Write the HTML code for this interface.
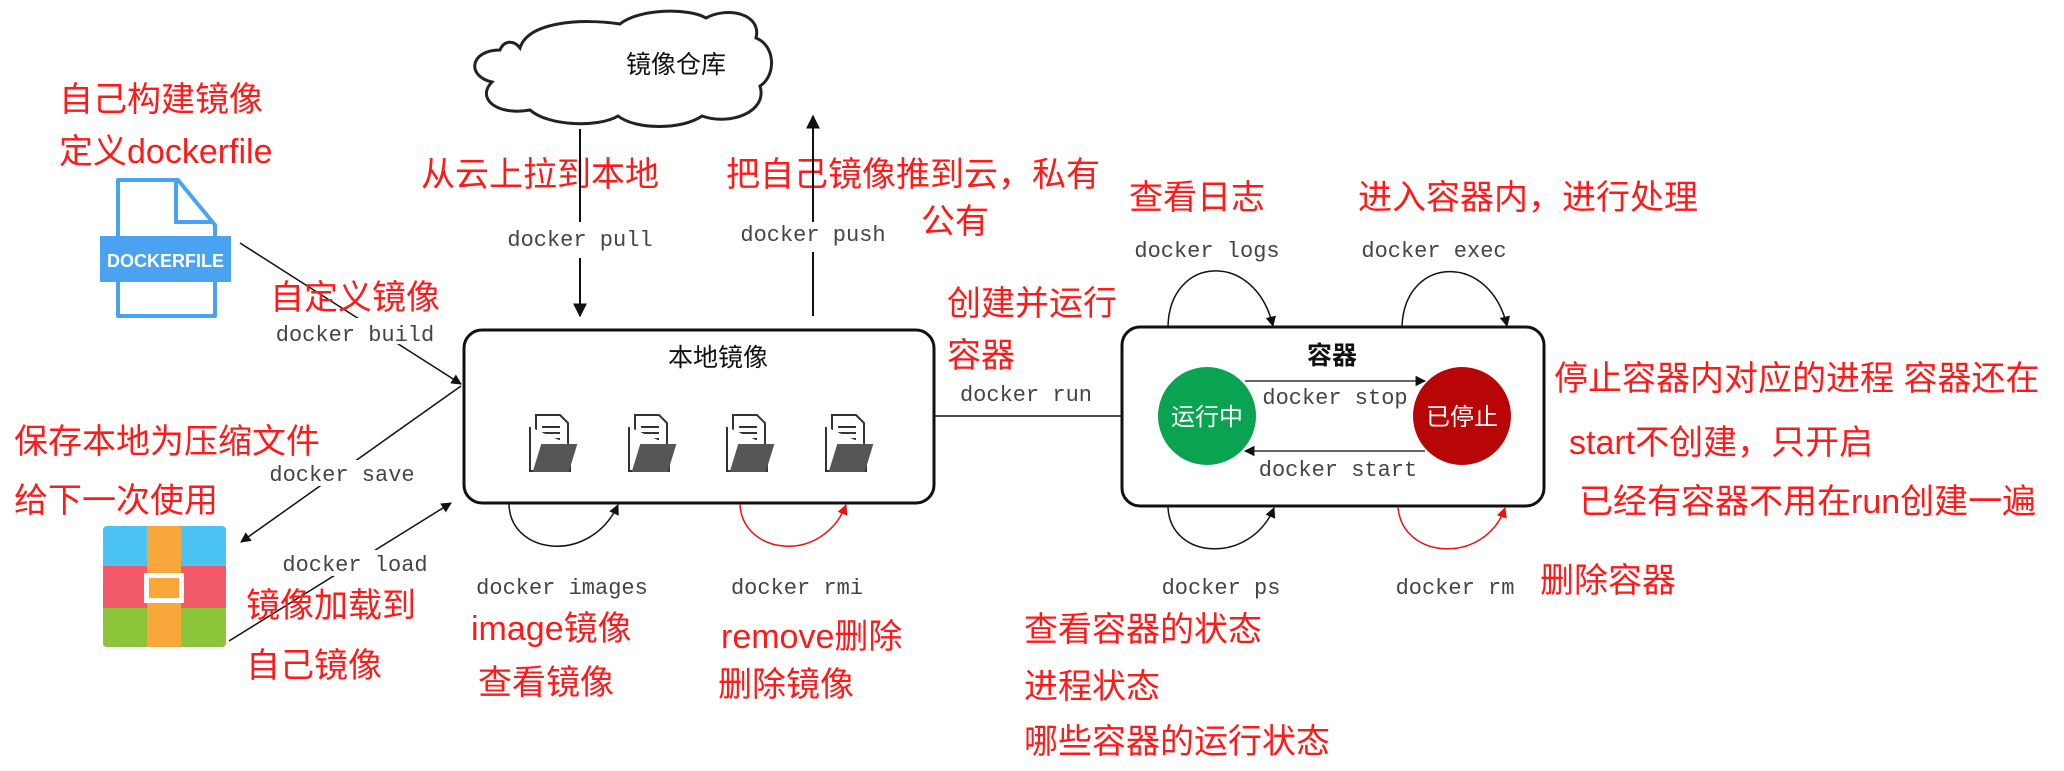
<!DOCTYPE html>
<html><head><meta charset="utf-8"><style>
html,body{margin:0;padding:0;background:#fff;}
svg{display:block;}
.r{font-family:"Liberation Sans","Noto Sans CJK SC",sans-serif;font-size:34px;fill:#ff1a1a;}
.m{font-family:"Liberation Mono",monospace;font-size:22px;fill:#444;}
.t{font-family:"Liberation Sans","Noto Sans CJK SC",sans-serif;font-size:25px;fill:#111;}
</style></head><body>
<svg width="2064" height="771" viewBox="0 0 2064 771" xmlns="http://www.w3.org/2000/svg">
<defs>
<marker id="a" viewBox="0 0 10 10" refX="9" refY="5" markerWidth="7" markerHeight="7" orient="auto-start-reverse"><path d="M0,0L10,5L0,10z" fill="#111"/></marker>
<marker id="ar" viewBox="0 0 10 10" refX="9" refY="5" markerWidth="7" markerHeight="7" orient="auto-start-reverse"><path d="M0,0L10,5L0,10z" fill="#e11"/></marker>
</defs>
<!-- cloud -->
<path d="M520,48 C528,22 580,18 620,24 C640,8 690,8 706,18 C728,6 762,14 756,38 C776,46 776,76 760,86 C768,112 730,126 702,116 C682,130 636,130 618,116 C598,128 548,126 530,110 C496,116 476,98 492,82 C466,76 470,50 500,50 C504,40 514,40 520,48 Z" fill="#fff" stroke="#222" stroke-width="3"/>
<text class="t" x="676" y="73" text-anchor="middle">镜像仓库</text>

<text class="r" x="59" y="111">自己构建镜像</text>
<text class="r" x="59" y="163">定义dockerfile</text>
<path d="M118,180 H178 L215,225 V316 H118 Z" fill="#fff" stroke="#4aa3f0" stroke-width="4" stroke-linejoin="round"/>
<path d="M176,182 V222 H213" fill="none" stroke="#4aa3f0" stroke-width="4"/>
<rect x="100" y="236" width="131" height="46" fill="#4aa3f0"/>
<text x="165.5" y="267" text-anchor="middle" font-family="Liberation Sans,sans-serif" font-weight="bold" font-size="18" fill="#fff">DOCKERFILE</text>

<text class="r" x="421" y="186">从云上拉到本地</text>
<text class="r" x="726" y="186">把自己镜像推到云，私有</text>
<text class="r" x="921" y="233">公有</text>
<text class="r" x="947" y="315">创建并运行</text>
<text class="r" x="947" y="367">容器</text>

<line x1="580" y1="129" x2="580" y2="222" stroke="#111" stroke-width="2"/>
<text class="m" x="580" y="246" text-anchor="middle">docker pull</text>
<line x1="580" y1="258" x2="580" y2="316" stroke="#111" stroke-width="2" marker-end="url(#a)"/>
<line x1="813" y1="316" x2="813" y2="252" stroke="#111" stroke-width="2"/>
<text class="m" x="813" y="241" text-anchor="middle">docker push</text>
<line x1="813" y1="222" x2="813" y2="116" stroke="#111" stroke-width="2" marker-end="url(#a)"/>

<rect x="464" y="330" width="470" height="173" rx="18" fill="#fff" stroke="#111" stroke-width="3"/>
<text class="t" x="718" y="366" text-anchor="middle">本地镜像</text>
<g fill="#fff" stroke="#333" stroke-width="2">
<g transform="translate(530,415)"><path d="M6,0H30L38,8V40H6Z"/><path d="M12,12H30M12,18H30M12,24H30" /><path d="M0,12V56H40V30"/><path d="M4,56L12,30H46L38,56Z" fill="#555" stroke="#555"/></g>
<g transform="translate(629,415)"><path d="M6,0H30L38,8V40H6Z"/><path d="M12,12H30M12,18H30M12,24H30" /><path d="M0,12V56H40V30"/><path d="M4,56L12,30H46L38,56Z" fill="#555" stroke="#555"/></g>
<g transform="translate(727,415)"><path d="M6,0H30L38,8V40H6Z"/><path d="M12,12H30M12,18H30M12,24H30" /><path d="M0,12V56H40V30"/><path d="M4,56L12,30H46L38,56Z" fill="#555" stroke="#555"/></g>
<g transform="translate(826,415)"><path d="M6,0H30L38,8V40H6Z"/><path d="M12,12H30M12,18H30M12,24H30" /><path d="M0,12V56H40V30"/><path d="M4,56L12,30H46L38,56Z" fill="#555" stroke="#555"/></g>
</g>

<line x1="240" y1="243" x2="461" y2="384" stroke="#111" stroke-width="1.5" marker-end="url(#a)"/>
<rect x="270" y="318" width="175" height="26" fill="#fff"/>
<text class="r" x="270" y="309">自定义镜像</text>
<text class="m" x="355" y="341" text-anchor="middle">docker build</text>
<line x1="461" y1="386" x2="241" y2="542" stroke="#111" stroke-width="1.5" marker-end="url(#a)"/>
<rect x="268" y="460" width="150" height="26" fill="#fff"/>
<text class="m" x="342" y="481" text-anchor="middle">docker save</text>
<text class="r" x="14" y="453">保存本地为压缩文件</text>
<text class="r" x="14" y="512">给下一次使用</text>
<rect x="103" y="526" width="123" height="121" rx="4" fill="#4cc3f5"/>
<rect x="103" y="566" width="123" height="42" fill="#f25a6a"/>
<path d="M103,608H226V643a4,4 0 0 1 -4,4H107a4,4 0 0 1 -4,-4Z" fill="#8cc43a"/>
<rect x="147" y="526" width="34" height="121" fill="#f8a73a"/>
<rect x="144" y="573" width="40" height="30" fill="#fff"/>
<rect x="149" y="578" width="30" height="20" fill="#f8a73a"/>
<line x1="229" y1="641" x2="451" y2="503" stroke="#111" stroke-width="1.5" marker-end="url(#a)"/>
<rect x="282" y="550" width="150" height="26" fill="#fff"/>
<text class="m" x="355" y="571" text-anchor="middle">docker load</text>
<text class="r" x="246" y="617">镜像加载到</text>
<text class="r" x="246" y="677">自己镜像</text>

<path d="M509,504 C510,555 590,565 618,505" fill="none" stroke="#111" stroke-width="1.5" marker-end="url(#a)"/>
<text class="m" x="562" y="594" text-anchor="middle">docker images</text>
<text class="r" x="471" y="640">image镜像</text>
<text class="r" x="478" y="694">查看镜像</text>
<path d="M740,504 C742,555 822,565 846,505" fill="none" stroke="#e11" stroke-width="1.5" marker-end="url(#ar)"/>
<text class="m" x="797" y="594" text-anchor="middle">docker rmi</text>
<text class="r" x="721" y="648">remove删除</text>
<text class="r" x="718" y="696">删除镜像</text>

<line x1="934" y1="416" x2="1156" y2="416" stroke="#111" stroke-width="1.5" marker-end="url(#a)"/>
<text class="m" x="1026" y="401" text-anchor="middle">docker run</text>

<rect x="1122" y="327" width="422" height="179" rx="18" fill="#fff" stroke="#111" stroke-width="3"/>
<text class="t" x="1332" y="364" text-anchor="middle" font-weight="bold">容器</text>
<circle cx="1207" cy="416" r="49" fill="#0aa352"/>
<circle cx="1462" cy="416" r="49" fill="#b80606"/>
<text x="1207" y="425" text-anchor="middle" font-family="Liberation Sans,Noto Sans CJK SC,sans-serif" font-size="24" fill="#fff">运行中</text>
<text x="1462" y="425" text-anchor="middle" font-family="Liberation Sans,Noto Sans CJK SC,sans-serif" font-size="24" fill="#fff">已停止</text>
<line x1="1245" y1="381" x2="1425" y2="381" stroke="#333" stroke-width="1.5" marker-end="url(#a)"/>
<text class="m" x="1335" y="404" text-anchor="middle">docker stop</text>
<line x1="1425" y1="451" x2="1245" y2="451" stroke="#333" stroke-width="1.5" marker-end="url(#a)"/>
<text class="m" x="1338" y="476" text-anchor="middle">docker start</text>

<path d="M1168,326 C1170,255 1255,250 1273,326" fill="none" stroke="#111" stroke-width="1.5" marker-end="url(#a)"/>
<text class="m" x="1207" y="257" text-anchor="middle">docker logs</text>
<text class="r" x="1129" y="209">查看日志</text>
<path d="M1402,326 C1405,255 1490,252 1507,326" fill="none" stroke="#111" stroke-width="1.5" marker-end="url(#a)"/>
<text class="m" x="1434" y="257" text-anchor="middle">docker exec</text>
<text class="r" x="1358" y="209">进入容器内，进行处理</text>

<path d="M1168,507 C1170,560 1250,565 1274,508" fill="none" stroke="#111" stroke-width="1.5" marker-end="url(#a)"/>
<text class="m" x="1221" y="594" text-anchor="middle">docker ps</text>
<path d="M1398,507 C1402,560 1485,565 1505,508" fill="none" stroke="#e11" stroke-width="1.5" marker-end="url(#ar)"/>
<text class="m" x="1455" y="594" text-anchor="middle">docker rm</text>
<text class="r" x="1540" y="592">删除容器</text>

<text class="r" x="1554" y="390">停止容器内对应的进程 容器还在</text>
<text class="r" x="1569" y="454">start不创建，只开启</text>
<text class="r" x="1579" y="513">已经有容器不用在run创建一遍</text>

<text class="r" x="1024" y="641">查看容器的状态</text>
<text class="r" x="1024" y="698">进程状态</text>
<text class="r" x="1024" y="753">哪些容器的运行状态</text>
</svg>
</body></html>
